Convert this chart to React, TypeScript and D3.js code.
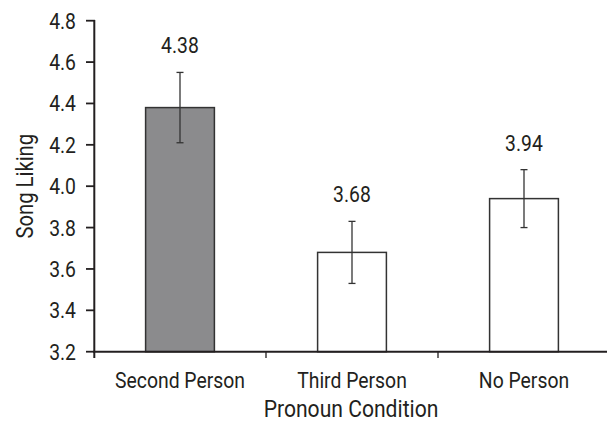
import React from "react";
import * as d3 from "d3";

const categories = ["Second Person", "Third Person", "No Person"];
const means = [4.38, 3.68, 3.94];
const errors = [0.17, 0.15, 0.14];
const fills = ["#8b8b8d", "#ffffff", "#ffffff"];
const yTicks = [3.2, 3.4, 3.6, 3.8, 4.0, 4.2, 4.4, 4.6, 4.8];

const W = 607;
const H = 425;
const FONT = "Roboto, 'Liberation Sans', sans-serif";
const SX = 0.88;

function T(props: { x: number; y: number; anchor?: string; size: number; rotate?: number; dy?: string; children: React.ReactNode }) {
  const { x, y, anchor = "middle", size, rotate = 0, dy, children } = props;
  return (
    <text
      transform={`translate(${x},${y}) rotate(${rotate}) scale(${SX},1)`}
      textAnchor={anchor}
      fontSize={size}
      dy={dy}
    >
      {children}
    </text>
  );
}

export default function App() {
  const x = d3.scaleBand<string>().domain(categories).range([94, 610]).padding(0);
  const y = d3.scaleLinear().domain([3.2, 4.8]).range([351.7, 20.7]);
  const bw = x.bandwidth() * 0.4;
  const textColor = "#231f20";
  return (
    <svg width={W} height={H} style={{ position: "absolute", left: 0, top: 0, background: "#fff" }}>
      <g fontFamily={FONT} fill={textColor}>
        {categories.map((c, i) => {
          const cx = x(c)! + x.bandwidth() / 2;
          const top = y(means[i] + errors[i]);
          const bot = y(means[i] - errors[i]);
          return (
            <g key={c}>
              <rect x={cx - bw / 2} y={y(means[i])} width={bw} height={y(3.2) - y(means[i])} fill={fills[i]} stroke="#333" strokeWidth={1.5} />
              <line x1={cx} x2={cx} y1={top} y2={bot} stroke="#333" strokeWidth={1.3} />
              <line x1={cx - 3.5} x2={cx + 3.5} y1={top} y2={top} stroke="#333" strokeWidth={1.3} />
              <line x1={cx - 3.5} x2={cx + 3.5} y1={bot} y2={bot} stroke="#333" strokeWidth={1.3} />
              <T x={cx} y={top - 19} size={22}>{means[i].toFixed(2)}</T>
              <T x={cx} y={388} size={22}>{c}</T>
            </g>
          );
        })}
        {yTicks.map((t) => (
          <g key={t}>
            <line x1={86} x2={95} y1={y(t)} y2={y(t)} stroke="#231f20" strokeWidth={1.8} />
            <T x={76} y={y(t) + 8} anchor="end" size={22}>{t.toFixed(1)}</T>
          </g>
        ))}
        {[x("Third Person")!, x("No Person")!].map((bx, i) => (
          <line key={i} x1={bx} x2={bx} y1={351.7} y2={358} stroke="#231f20" strokeWidth={1.3} />
        ))}
        <line x1={94.3} x2={94.3} y1={20} y2={358} stroke="#231f20" strokeWidth={2} />
        <line x1={93} x2={607} y1={351.7} y2={351.7} stroke="#231f20" strokeWidth={2} />
        <T x={351} y={416.5} size={24}>Pronoun Condition</T>
        <T x={33} y={(y(3.2) + y(4.8)) / 2} size={23} rotate={-90}>Song Liking</T>
      </g>
    </svg>
  );
}
